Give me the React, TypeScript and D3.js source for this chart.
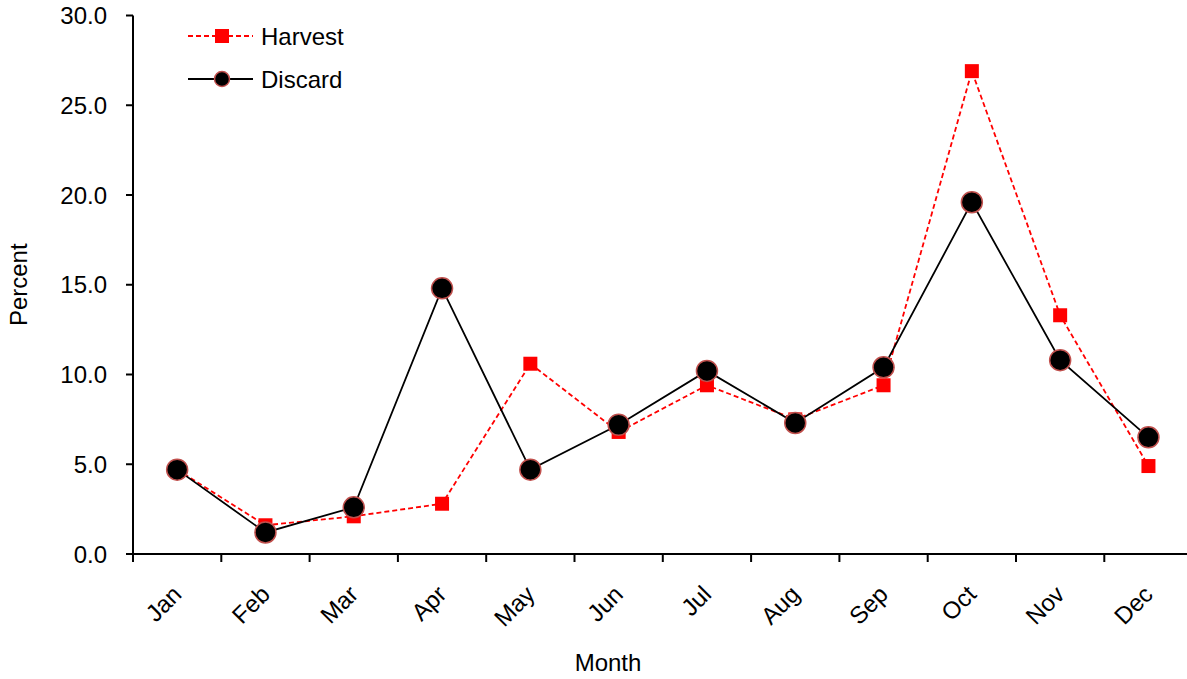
import { useMemo } from "react";
import * as d3 from "d3";

const WIDTH = 1187;
const HEIGHT = 679;

const MONTHS = ["Jan", "Feb", "Mar", "Apr", "May", "Jun", "Jul", "Aug", "Sep", "Oct", "Nov", "Dec"];
const HARVEST = [4.7, 1.6, 2.1, 2.8, 10.6, 6.8, 9.4, 7.5, 9.4, 26.9, 13.3, 4.9];
const DISCARD = [4.7, 1.2, 2.6, 14.8, 4.7, 7.2, 10.2, 7.3, 10.4, 19.6, 10.8, 6.5];
const Y_TICKS = [0, 5, 10, 15, 20, 25, 30];

const FONT = "'Liberation Sans', Arial, sans-serif";
const LEFT = 133;
const TOP = 15.5;
const BOTTOM = 554;
const FS = 24;

export default function App() {
  const x = useMemo(() => d3.scaleBand<string>().domain(MONTHS).range([LEFT, LEFT + 88.3 * 12]), []);
  const y = useMemo(() => d3.scaleLinear().domain([0, 30]).range([BOTTOM, TOP]), []);

  const cx = (m: string) => (x(m) ?? 0) + x.bandwidth() / 2;
  const line = d3.line<number>().x((_, i) => cx(MONTHS[i])).y((d) => y(d));

  return (
    <svg width={WIDTH} height={HEIGHT} style={{ position: "absolute", left: 0, top: 0, background: "#fff" }} fontFamily={FONT}>
      {/* y axis */}
      <line x1={LEFT} x2={LEFT} y1={TOP} y2={BOTTOM} stroke="#000" strokeWidth={2} />
      {Y_TICKS.map((t) => (
        <g key={t}>
          <line x1={LEFT - 7} x2={LEFT} y1={y(t)} y2={y(t)} stroke="#000" strokeWidth={2} />
          <text x={LEFT - 26} y={y(t)} dy="0.36em" textAnchor="end" fontSize={FS}>
            {t.toFixed(1)}
          </text>
        </g>
      ))}

      {/* x axis */}
      <line x1={LEFT} x2={WIDTH} y1={BOTTOM} y2={BOTTOM} stroke="#000" strokeWidth={2} />
      {MONTHS.map((m) => (
        <line key={m} x1={x(m)} x2={x(m)} y1={BOTTOM} y2={BOTTOM + 8} stroke="#000" strokeWidth={2} />
      ))}
      {MONTHS.map((m) => (
        <text
          key={m}
          transform={`translate(${cx(m) - 6},${BOTTOM + 30}) rotate(-45)`}
          textAnchor="end"
          dy="0.7em"
          fontSize={FS}
        >
          {m}
        </text>
      ))}

      <text x={608} y={671} textAnchor="middle" fontSize={FS}>Month</text>
      <text transform={`translate(27,${(TOP + BOTTOM) / 2}) rotate(-90)`} textAnchor="middle" fontSize={FS}>
        Percent
      </text>

      {/* Harvest */}
      <path d={line(HARVEST) ?? ""} fill="none" stroke="#ff0000" strokeWidth={1.8} strokeDasharray="5,3" />
      {HARVEST.map((v, i) => (
        <rect key={i} x={cx(MONTHS[i]) - 7} y={y(v) - 7} width={14} height={14} fill="#ff0000" />
      ))}

      {/* Discard */}
      <path d={line(DISCARD) ?? ""} fill="none" stroke="#000" strokeWidth={1.8} />
      {DISCARD.map((v, i) => (
        <circle key={i} cx={cx(MONTHS[i])} cy={y(v)} r={10.5} fill="#000" stroke="#c0504d" strokeWidth={1.5} />
      ))}

      {/* legend */}
      <g>
        <line x1={188} x2={253} y1={36} y2={36} stroke="#ff0000" strokeWidth={1.8} strokeDasharray="5,3" />
        <rect x={215} y={29} width={14} height={14} fill="#ff0000" />
        <text x={261} y={36} dy="0.36em" fontSize={FS}>Harvest</text>
        <line x1={188} x2={253} y1={79} y2={79} stroke="#000" strokeWidth={1.8} />
        <circle cx={222} cy={79} r={7.5} fill="#000" stroke="#c0504d" strokeWidth={1.5} />
        <text x={261} y={79} dy="0.36em" fontSize={FS}>Discard</text>
      </g>
    </svg>
  );
}
